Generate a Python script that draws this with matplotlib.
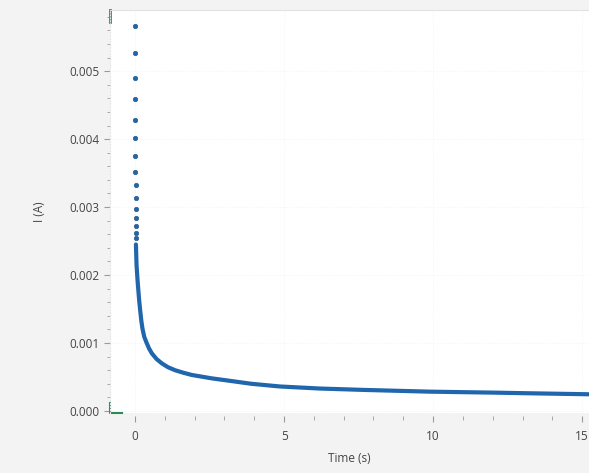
import matplotlib
matplotlib.use("Agg")
import matplotlib.pyplot as plt
from matplotlib.ticker import MultipleLocator, FormatStrFormatter

# first samples, drawn as separate dots
t_dots = [0.000, 0.002, 0.004, 0.006, 0.008, 0.010, 0.012, 0.014,
          0.016, 0.018, 0.020, 0.022, 0.024, 0.026, 0.028]
i_dots = [5.666e-3, 5.260e-3, 4.901e-3, 4.584e-3, 4.279e-3, 4.010e-3,
          3.750e-3, 3.510e-3, 3.324e-3, 3.137e-3, 2.966e-3, 2.834e-3,
          2.721e-3, 2.622e-3, 2.540e-3]

# dense part of the record
t_curve = [0.03, 0.05, 0.08, 0.11, 0.14, 0.17, 0.21, 0.25, 0.31, 0.39,
           0.47, 0.56, 0.72, 0.90, 1.10, 1.34, 1.60, 1.90, 2.57, 3.24,
           3.90, 4.87, 6.20, 7.65, 9.90, 12.0, 13.25, 15.3]
i_curve = [2.45e-3, 2.15e-3, 1.95e-3, 1.78e-3, 1.62e-3, 1.49e-3, 1.33e-3,
           1.21e-3, 1.09e-3, 1.00e-3, 0.92e-3, 0.85e-3, 0.765e-3, 0.70e-3,
           0.645e-3, 0.60e-3, 0.565e-3, 0.53e-3, 0.48e-3, 0.44e-3, 0.40e-3,
           0.36e-3, 0.33e-3, 0.31e-3, 0.284e-3, 0.27e-3, 0.26e-3, 0.245e-3]

x_ticks = [0, 5, 10, 15]
y_ticks = [0.000, 0.001, 0.002, 0.003, 0.004, 0.005]

blue = '#1f66ad'
grey = '#444444'

plt.rcParams['font.family'] = ['Open Sans', 'DejaVu Sans']

fig = plt.figure(figsize=(5.89, 4.73), dpi=100, facecolor='#f3f3f3')
ax = fig.add_axes([110 / 589, 60 / 473, 479 / 589, 403 / 473])
ax.set_facecolor('white')

ax.plot(t_curve, i_curve, '-', color=blue, lw=3.0, solid_capstyle='round',
        solid_joinstyle='round')
ax.plot(t_dots, i_dots, 'o', color=blue, ms=3.2, mec='#2b5d8a', mew=0.5)

ax.set_xlim(-0.84, 15.23)
ax.set_ylim(-0.00003, 0.0059)

ax.set_xticks(x_ticks)
ax.set_yticks(y_ticks)
ax.xaxis.set_minor_locator(MultipleLocator(1))
ax.yaxis.set_minor_locator(MultipleLocator(0.0002))
ax.yaxis.set_major_formatter(FormatStrFormatter('%.3f'))

ax.tick_params(which='both', direction='out', colors='#9a9a9a',
               labelcolor=grey, labelsize=8.5)
ax.tick_params(which='major', length=4, width=0.8)
ax.tick_params(which='minor', length=2.5, width=0.6)
ax.tick_params(axis='x', which='major', length=4, pad=6)
ax.tick_params(axis='x', which='minor', length=3)

ax.spines['right'].set_visible(False)
ax.spines['top'].set_color('#e2e2e2')
ax.spines['left'].set_color('#e6e6e6')
ax.spines['left'].set_linestyle(':')
ax.spines['bottom'].set_position(('outward', 2))
ax.spines['bottom'].set_visible(False)

ax.grid(True, which='major', color='#f2f2f2', lw=0.6, ls=':')

ax.set_xlabel('Time (s)', fontsize=8.5, color=grey, labelpad=7)
ax.set_ylabel('I (A)', fontsize=8.5, color=grey, labelpad=17)

# green range brackets at the corners of the left axis
green = '#2e8b57'
ax.plot([0, 0], [0.97, 1.0], color=green, lw=2, transform=ax.transAxes,
        clip_on=False)
ax.plot([0, 0, 0.025], [0.025, 0.0, 0.0], color=green, lw=1.5,
        transform=ax.transAxes, clip_on=False)

fig.savefig('out.png', dpi=100, facecolor=fig.get_facecolor())
